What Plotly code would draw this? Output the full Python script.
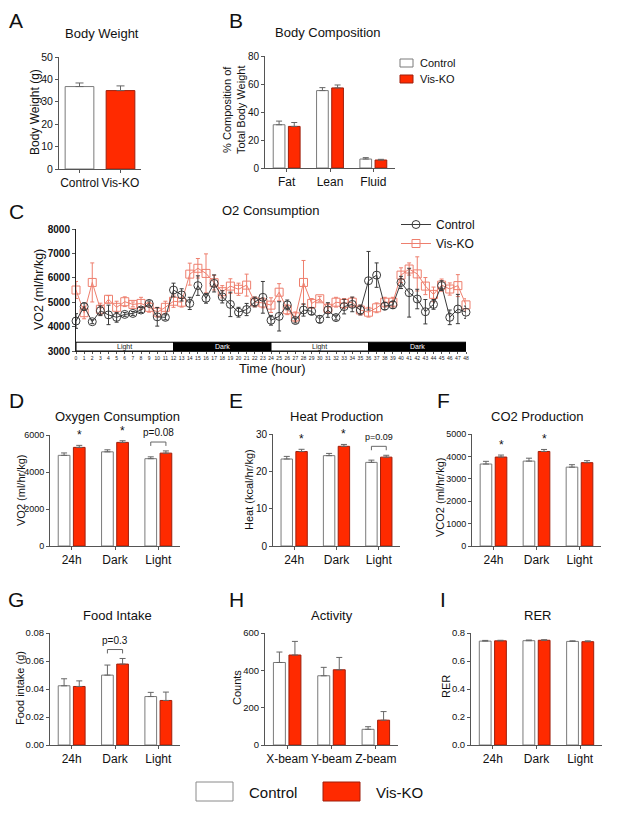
import plotly.graph_objects as go

W, H = 617, 822
OFF = 8  # default page margin around the plot div
FW, FH = W - OFF, H - OFF
FONT = "Arial, Liberation Sans, sans-serif"
RED = "#FF2A00"
RED_EDGE = "#9E1F0C"
AXIS = "#555555"
KO_LINE = "#EE7F6E"
CTL_LINE = "#3A3A3A"

# A: body weight
bw_groups = ["Control", "Vis-KO"]
bw_mean = [36.8, 35.0]
bw_err = [1.6, 2.1]

# B: body composition
comp_cats = ["Fat", "Lean", "Fluid"]
comp_ctl = [30.9, 55.3, 6.4]
comp_ctl_err = [2.6, 2.1, 1.0]
comp_ko = [29.7, 57.2, 5.7]
comp_ko_err = [2.8, 2.1, 0.5]

# C: O2 consumption over time
hours = list(range(49))
vo2_ctl_t = [4230, 4820, 4200, 4650, 4480, 4380, 4500, 4540, 4680, 4950,
             4400, 4380, 5500, 5300, 4950, 5680, 5160, 5770, 5220, 4910,
             4590, 4700, 5010, 5200, 4260, 4420, 4890, 4250, 4680, 4630,
             4300, 4680, 4370, 4820, 4910, 4680, 5880, 6110, 4840, 4890,
             5810, 5390, 5130, 4610, 4910, 5680, 4380, 4720, 4590]
vo2_ctl_t_err = [300, 150, 80, 200, 400, 200, 80, 80, 100, 100,
                 380, 100, 280, 250, 250, 400, 200, 350, 250, 500,
                 200, 250, 200, 650, 200, 600, 200, 100, 250, 150,
                 150, 300, 100, 300, 300, 200, 1200, 500, 150, 150,
                 250, 1000, 400, 500, 200, 200, 300, 600, 250]
vo2_ko_t = [5500, 4570, 5810, 4710, 5120, 4790, 5020, 4910, 4950, 4790,
            4590, 4790, 5040, 5000, 6150, 6390, 6180, 5800, 5430, 5660,
            5530, 5700, 5010, 4970, 4880, 5410, 4690, 4400, 5810, 4950,
            5140, 4750, 5000, 4950, 5000, 4680, 4590, 4770, 5000, 5000,
            6110, 6360, 6160, 5660, 5320, 5700, 5540, 5680, 4890]
vo2_ko_t_err = [350, 250, 800, 250, 150, 250, 200, 100, 250, 200,
                200, 250, 250, 200, 450, 400, 800, 300, 250, 300,
                250, 450, 200, 200, 300, 350, 200, 200, 900, 200,
                100, 200, 200, 200, 200, 200, 200, 200, 200, 200,
                300, 250, 700, 350, 300, 250, 250, 450, 250]
phase_names = ["Light", "Dark", "Light", "Dark"]
phase_start = [0, 12, 24, 36]
phase_len = 12

# D-I: summary bars
period_cats = ["24h", "Dark", "Light"]
vo2_ctl = [4900, 5090, 4720]
vo2_ctl_err = [130, 110, 100]
vo2_ko = [5330, 5600, 5020]
vo2_ko_err = [110, 90, 120]
vo2_stars = ["*", "*", ""]
vo2_p = ["", "", "p=0.08"]

heat_ctl = [23.3, 24.2, 22.4]
heat_ctl_err = [0.7, 0.6, 0.6]
heat_ko = [25.3, 26.7, 23.8]
heat_ko_err = [0.6, 0.5, 0.5]
heat_stars = ["*", "*", ""]
heat_p = ["", "", "p=0.09"]

co2_ctl = [3660, 3790, 3520]
co2_ctl_err = [120, 130, 110]
co2_ko = [3970, 4220, 3720]
co2_ko_err = [90, 90, 90]
co2_stars = ["*", "*", ""]
co2_p = ["", "", ""]

food_ctl = [0.0423, 0.0499, 0.0346]
food_ctl_err = [0.005, 0.0072, 0.003]
food_ko = [0.0418, 0.0578, 0.0318]
food_ko_err = [0.004, 0.004, 0.006]
food_stars = ["", "", ""]
food_p = ["", "p=0.3", ""]

beam_cats = ["X-beam", "Y-beam", "Z-beam"]
act_ctl = [442, 371, 84]
act_ctl_err = [56, 45, 14]
act_ko = [482, 403, 133]
act_ko_err = [73, 66, 46]

rer_ctl = [0.742, 0.745, 0.740]
rer_ctl_err = [0.005, 0.005, 0.004]
rer_ko = [0.744, 0.748, 0.738]
rer_ko_err = [0.004, 0.004, 0.006]


def px(x):
    return (x - OFF) / FW


def py(y):
    return 1 - (y - OFF) / FH


def xd(a, b):
    return [px(a), px(b)]


def yd(top, bottom):
    return [py(bottom), py(top)]


def refs(n):
    return ("x", "y") if n == 1 else (f"x{n}", f"y{n}")


def keys(n):
    return ("xaxis", "yaxis") if n == 1 else (f"xaxis{n}", f"yaxis{n}")


def axis_style():
    return dict(
        showline=True, linecolor=AXIS, linewidth=1, ticks="outside",
        ticklen=3, tickcolor=AXIS, showgrid=False, zeroline=False,
        fixedrange=True, automargin=False,
    )


fig = go.Figure()
annotations = []
shapes = []


def text(x, y, s, size, xanchor="center", **kw):
    annotations.append(dict(
        x=px(x), y=py(y), xref="paper", yref="paper", text=s,
        xanchor=xanchor, yanchor="middle", showarrow=False,
        font=dict(family=FONT, size=size, color="#111"), **kw))


def set_axes(n, cats, xdom, ydom, yrange, dtick, fmt, yfont=10):
    kx, ky = keys(n)
    rx, ry = refs(n)
    fig.update_layout({
        kx: dict(axis_style(), domain=xd(*xdom), anchor=ry, type="category",
                 categoryarray=cats, range=[-0.5, len(cats) - 0.5],
                 tickfont=dict(family=FONT, size=12, color="#111")),
        ky: dict(axis_style(), domain=yd(*ydom), anchor=rx, range=yrange,
                 dtick=dtick, tickformat=fmt,
                 tickfont=dict(family=FONT, size=yfont, color="#111")),
    })


def bar_panel(n, cats, ctl, ctl_err, ko, ko_err, xdom, ydom, yrange, dtick,
              fmt="", stars=None, pvals=None, pfont=10, yfont=10):
    rx, ry = refs(n)
    zeros = [0] * len(cats)
    fig.add_trace(go.Bar(
        x=cats, y=ctl, xaxis=rx, yaxis=ry, offset=-0.31, width=0.27,
        marker=dict(color="white", line=dict(color="#7A7A7A", width=1)),
        error_y=dict(type="data", array=ctl_err, arrayminus=zeros,
                     symmetric=False, color="#666", thickness=1, width=3),
        showlegend=False))
    fig.add_trace(go.Bar(
        x=cats, y=ko, xaxis=rx, yaxis=ry, offset=0.04, width=0.27,
        marker=dict(color=RED, line=dict(color=RED_EDGE, width=1)),
        error_y=dict(type="data", array=ko_err, arrayminus=zeros,
                     symmetric=False, color="#666", thickness=1, width=3),
        showlegend=False))
    set_axes(n, cats, xdom, ydom, yrange, dtick, fmt, yfont)
    span = yrange[1] - yrange[0]
    for i in range(len(cats)):
        if stars and stars[i]:
            annotations.append(dict(
                x=i + 0.175, y=ko[i] + ko_err[i], xref=rx, yref=ry,
                text=stars[i], showarrow=False, xanchor="center",
                yanchor="bottom", yshift=1,
                font=dict(family=FONT, size=12, color="#111")))
        if pvals and pvals[i]:
            top = max(ctl[i] + ctl_err[i], ko[i] + ko_err[i])
            legs = top + 0.045 * span
            peak = legs + 0.035 * span
            for x0, y0, x1, y1 in [(i - 0.175, legs, i - 0.175, peak),
                                   (i - 0.175, peak, i + 0.175, peak),
                                   (i + 0.175, peak, i + 0.175, legs)]:
                shapes.append(dict(type="line", xref=rx, yref=ry, x0=x0,
                                   y0=y0, x1=x1, y1=y1,
                                   line=dict(color="#666", width=1)))
            annotations.append(dict(
                x=i, y=peak, xref=rx, yref=ry, text=pvals[i],
                showarrow=False, xanchor="center", yanchor="bottom", yshift=2,
                font=dict(family=FONT, size=pfont, color="#111")))


# A
fig.add_trace(go.Bar(
    x=bw_groups, y=bw_mean, xaxis="x", yaxis="y", width=0.7,
    marker=dict(color=["white", RED],
                line=dict(color=["#7A7A7A", RED_EDGE], width=1)),
    error_y=dict(type="data", array=bw_err, arrayminus=[0, 0],
                 symmetric=False, color="#666", thickness=1, width=4),
    showlegend=False))
set_axes(1, bw_groups, (59, 141), (57, 169), [0, 50], 10, "", 10.5)

# B
bar_panel(2, comp_cats, comp_ctl, comp_ctl_err, comp_ko, comp_ko_err,
          (265, 395), (56, 168), [0, 80], 20)

# D-F
bar_panel(4, period_cats, vo2_ctl, vo2_ctl_err, vo2_ko, vo2_ko_err,
          (50, 180), (435, 546), [0, 6000], 2000, stars=vo2_stars,
          pvals=vo2_p, yfont=9)
bar_panel(5, period_cats, heat_ctl, heat_ctl_err, heat_ko, heat_ko_err,
          (273, 400), (434, 546), [0, 30], 10, stars=heat_stars,
          pvals=heat_p, pfont=9)
bar_panel(6, period_cats, co2_ctl, co2_ctl_err, co2_ko, co2_ko_err,
          (472, 601), (434, 546), [0, 5000], 1000, stars=co2_stars,
          yfont=9)

# G-I
bar_panel(7, period_cats, food_ctl, food_ctl_err, food_ko, food_ko_err,
          (50, 180), (633, 745), [0, 0.08], 0.02, fmt=".2f", pvals=food_p,
          yfont=9.5)
bar_panel(8, beam_cats, act_ctl, act_ctl_err, act_ko, act_ko_err,
          (265, 398), (633, 745), [0, 600], 200, yfont=9.5)
bar_panel(9, period_cats, rer_ctl, rer_ctl_err, rer_ko, rer_ko_err,
          (471, 602), (633, 745), [0, 0.8], 0.2, fmt=".1f", yfont=9.5)

# C: time course
fig.add_trace(go.Scatter(
    x=hours, y=vo2_ko_t, xaxis="x3", yaxis="y3", name="Vis-KO",
    mode="lines+markers", cliponaxis=False, legendrank=2,
    line=dict(color=KO_LINE, width=1),
    marker=dict(symbol="square-open", size=8, color=KO_LINE,
                line=dict(width=1)),
    error_y=dict(type="data", array=vo2_ko_t_err, color=KO_LINE,
                 thickness=1, width=2)))
fig.add_trace(go.Scatter(
    x=hours, y=vo2_ctl_t, xaxis="x3", yaxis="y3", name="Control",
    mode="lines+markers", cliponaxis=False, legendrank=1,
    line=dict(color=CTL_LINE, width=1),
    marker=dict(symbol="circle-open", size=8, color=CTL_LINE,
                line=dict(width=1)),
    error_y=dict(type="data", array=vo2_ctl_t_err, color=CTL_LINE,
                 thickness=1, width=2)))
fig.update_layout(
    xaxis3=dict(axis_style(), domain=xd(76, 466), anchor="y3",
                range=[0, 48], tickvals=hours, ticklen=2, linecolor="#222",
                tickfont=dict(family=FONT, size=5, color="#222")),
    yaxis3=dict(axis_style(), domain=yd(229, 351), anchor="x3",
                range=[3000, 8000], dtick=1000, linecolor="#222",
                tickfont=dict(family=FONT, size=10, color="#111",
                              weight="bold")),
)
for name, start in zip(phase_names, phase_start):
    dark = name == "Dark"
    shapes.append(dict(type="rect", xref="x3", yref="y3", x0=start,
                       x1=start + phase_len, y0=3000, y1=3360,
                       fillcolor="black" if dark else "white",
                       line=dict(color="black", width=1)))
    annotations.append(dict(x=start + phase_len / 2, y=3180, xref="x3",
                            yref="y3", text=name, showarrow=False,
                            xanchor="center", yanchor="middle",
                            font=dict(family=FONT, size=7,
                                      color="white" if dark else "#222")))

# titles and panel letters
for letter, x, y in [("A", 16, 20), ("B", 236, 20), ("C", 16, 211),
                     ("D", 16, 400), ("E", 236, 400), ("F", 443, 400),
                     ("G", 16, 599), ("H", 236, 599), ("I", 443, 599)]:
    text(x, y, letter, 21)
for s, x, y in [("Body Weight", 102, 34), ("Body Composition", 328, 33),
                ("O2 Consumption", 271, 210), ("Oxygen Consumption", 117, 416),
                ("Heat Production", 336, 416), ("CO2 Production", 537, 416),
                ("Food Intake", 117, 615), ("Activity", 332, 615),
                ("RER", 537, 615)]:
    text(x, y, s, 13)

# axis titles
for s, x, y, size in [("Body Weight (g)", 35, 112, 12),
                      ("% Composition of<br>Total Body Weight", 234, 110, 11),
                      ("VO2 (ml/hr/kg)", 39, 290, 12.5),
                      ("VO2 (ml/hr/kg)", 21, 490, 11),
                      ("Heat (kcal/hr/kg)", 249, 490, 11),
                      ("VCO2 (ml/hr/kg)", 440, 498, 11),
                      ("Food intake (g)", 20, 688, 11),
                      ("Counts", 237, 688, 11),
                      ("RER", 446, 687, 11)]:
    text(x, y, s, size, textangle=-90)
text(272, 368, "Time (hour)", 13)

# B legend and bottom legend
for label, y, fill, edge in [("Control", 63, "white", "#7A7A7A"),
                             ("Vis-KO", 79, RED, RED_EDGE)]:
    shapes.append(dict(type="rect", xref="paper", yref="paper",
                       x0=px(400), x1=px(413), y0=py(y + 4), y1=py(y - 4),
                       fillcolor=fill, line=dict(color=edge, width=1)))
    text(418, y, label, 11, xanchor="left")
for label, x, fill, edge in [("Control", 196, "white", "#8A8A8A"),
                             ("Vis-KO", 323, RED, RED_EDGE)]:
    shapes.append(dict(type="rect", xref="paper", yref="paper",
                       x0=px(x), x1=px(x + 37), y0=py(801), y1=py(782),
                       fillcolor=fill, line=dict(color=edge, width=1)))
    text(x + 51, 792, label, 15, xanchor="left")

fig.update_layout(
    width=FW, height=FH, margin=dict(l=0, r=0, t=0, b=0),
    paper_bgcolor="white", plot_bgcolor="white", barmode="overlay",
    font=dict(family=FONT, color="#111"),
    annotations=annotations, shapes=shapes,
    legend=dict(x=px(396), y=py(210), xanchor="left", yanchor="top",
                font=dict(family=FONT, size=12), bgcolor="rgba(0,0,0,0)",
                tracegroupgap=0, itemwidth=30),
)

fig.write_html("out.html")
